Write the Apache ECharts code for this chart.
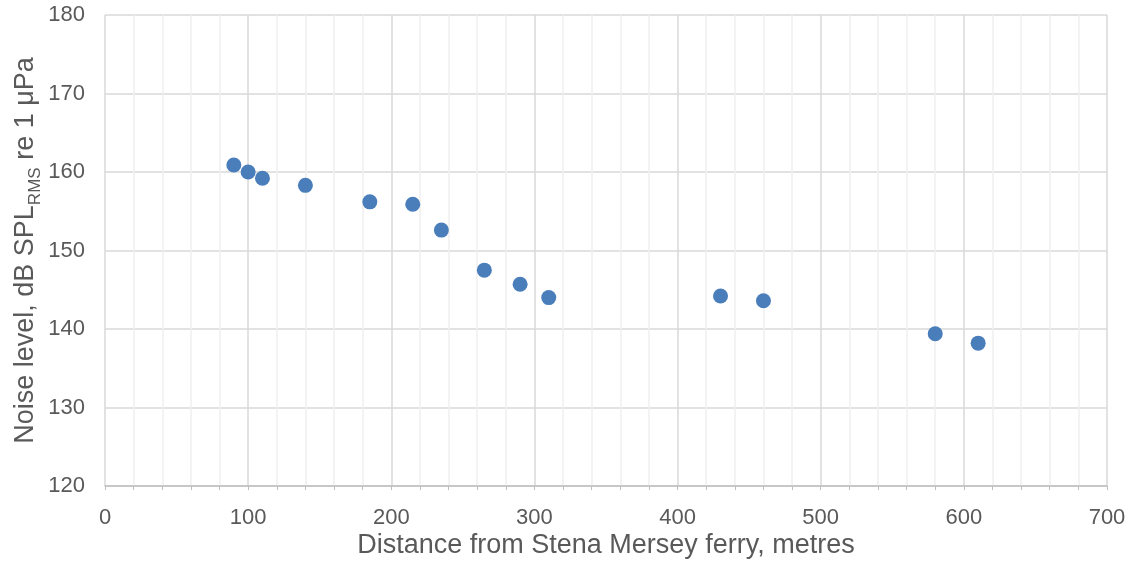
<!DOCTYPE html>
<html>
<head>
<meta charset="utf-8">
<script src="https://cdn.jsdelivr.net/npm/echarts@6/dist/echarts.min.js"></script>
<style>html,body{margin:0;padding:0;background:#fff}#c{width:1136px;height:563px}</style>
</head>
<body>
<div id="c"></div>
<script>
const distances = [90, 100, 110, 140, 185, 215, 235, 265, 290, 310, 430, 460, 580, 610];
const noiseLevels = [160.9, 160.0, 159.2, 158.3, 156.2, 155.9, 152.6, 147.5, 145.7, 144.0, 144.2, 143.6, 139.4, 138.2];
const xTitle = 'Distance from Stena Mersey ferry, metres';
const yTitleParts = ['Noise level, dB SPL', 'RMS', ' re 1 μPa'];

const chart = echarts.init(document.getElementById('c'), null, {renderer: 'canvas'});
const font = 'Liberation Sans, Arial, sans-serif';
chart.setOption({
  animation: false,
  grid: {left: 105, right: 29, top: 15, bottom: 77, containLabel: false, outerBoundsMode: 'none'},
  xAxis: {
    type: 'value', min: 0, max: 700, interval: 100,
    name: xTitle, nameLocation: 'middle', nameGap: 46, nameMoveOverlap: false,
    nameTextStyle: {fontFamily: font, fontSize: 27, color: '#595959'},
    axisLine: {show: true, lineStyle: {color: '#bfbfbf', width: 1.5}},
    axisTick: {show: true, length: 4, lineStyle: {color: '#bfbfbf'}},
    minorTick: {show: true, splitNumber: 5, length: 4, lineStyle: {color: '#bfbfbf'}},
    axisLabel: {fontFamily: font, fontSize: 22, color: '#595959', margin: 21},
    splitLine: {show: true, lineStyle: {color: '#d9d9d9', width: 1.5}},
    minorSplitLine: {show: true, lineStyle: {color: '#efefef', width: 1.5}}
  },
  yAxis: {
    type: 'value', min: 120, max: 180, interval: 10,
    name: '{a|' + yTitleParts[0] + '}{s|' + yTitleParts[1] + '}{a|' + yTitleParts[2] + '}',
    nameLocation: 'middle', nameGap: 66, nameRotate: 90, nameMoveOverlap: false,
    nameTextStyle: {
      rich: {
        a: {fontFamily: font, fontSize: 27, color: '#595959'},
        s: {fontFamily: font, fontSize: 17, color: '#595959', verticalAlign: 'bottom', padding: [0, 0, -5, 0]}
      }
    },
    axisLine: {show: false},
    axisTick: {show: false},
    axisLabel: {fontFamily: font, fontSize: 22, color: '#595959', margin: 20},
    splitLine: {show: true, lineStyle: {color: '#d9d9d9', width: 1.5}}
  },
  series: [{
    type: 'scatter',
    data: distances.map((d, i) => [d, noiseLevels[i]]),
    symbolSize: 15,
    itemStyle: {color: '#4a7ebb', opacity: 1}
  }]
});
</script>
</body>
</html>
